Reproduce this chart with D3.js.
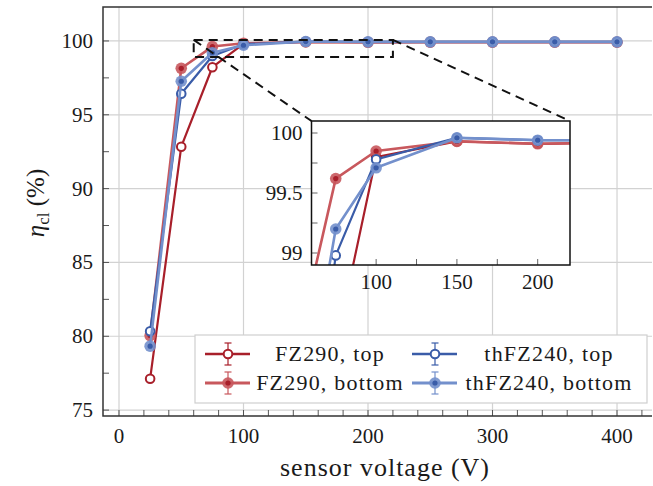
<!DOCTYPE html>
<html><head><meta charset="utf-8">
<script src="https://cdn.jsdelivr.net/npm/d3@7"></script>
<style>body{margin:0;background:#fff}svg{display:block}</style>
</head><body><svg id="c" width="653" height="486"></svg>
<script>
const voltages = [25, 50, 75, 100, 150, 200, 250, 300, 350, 400];
const fz290Top = [77.12, 92.84, 98.22, 99.80, 99.93, 99.91, 99.92, 99.92, 99.92, 99.92];
const fz290Bottom = [80.05, 98.15, 99.62, 99.85, 99.93, 99.91, 99.92, 99.92, 99.92, 99.92];
const thfz240Top = [80.34, 96.42, 98.98, 99.78, 99.96, 99.94, 99.94, 99.94, 99.94, 99.94];
const thfz240Bottom = [79.33, 97.27, 99.20, 99.71, 99.96, 99.94, 99.94, 99.94, 99.94, 99.94];
const seriesNames = ["FZ290, top", "FZ290, bottom", "thFZ240, top", "thFZ240, bottom"];
const xTicks = [0, 100, 200, 300, 400];
const yTicks = [75, 80, 85, 90, 95, 100];
const insetXTicks = [100, 150, 200];
const insetYTicks = [99, 99.5, 100];

const series = [
  {name: seriesNames[0], values: fz290Top, color: "#a81f2a", open: true, w: 2.2},
  {name: seriesNames[1], values: fz290Bottom, color: "#c8585d", dot: "#a81f2a", open: false, w: 2.6},
  {name: seriesNames[2], values: thfz240Top, color: "#3a5ca8", open: true, w: 2.2},
  {name: seriesNames[3], values: thfz240Bottom, color: "#7390cc", dot: "#3a5ca8", open: false, w: 2.6}
];

const TXT = "#1a1a1a";
const FONT = '"Liberation Serif"';
const svg = d3.select("#c");
const M = {l: 103, r: 652, t: 7, b: 416};
const x = d3.scaleLinear().domain([-12.85, 428.1]).range([M.l, M.r]);
const y = d3.scaleLinear().domain([74.6, 102.3]).range([M.b, M.t]);

function txt(sel){ return sel.attr("font-family",FONT).attr("fill",TXT); }

svg.append("clipPath").attr("id","mainclip").append("rect")
  .attr("x",M.l).attr("y",M.t).attr("width",M.r-M.l).attr("height",M.b-M.t);

// grid
const g = svg.append("g");
g.selectAll(".gx").data(xTicks).join("line")
  .attr("x1",d=>x(d)).attr("x2",d=>x(d)).attr("y1",M.t).attr("y2",M.b)
  .attr("stroke","#d2d2d2").attr("stroke-width",1.2);
g.selectAll(".gy").data(yTicks).join("line")
  .attr("y1",d=>y(d)).attr("y2",d=>y(d)).attr("x1",M.l).attr("x2",M.r)
  .attr("stroke","#d2d2d2").attr("stroke-width",1.2);

// ticks
const minorX = d3.range(0, 430, 20);
g.selectAll(".tx").data(minorX).join("line")
  .attr("x1",d=>x(d)).attr("x2",d=>x(d)).attr("y1",M.b).attr("y2",M.b-6)
  .attr("stroke","#444").attr("stroke-width",0.9);
const minorY = d3.range(75, 102.3, 2.5);
g.selectAll(".ty").data(minorY).join("line")
  .attr("y1",d=>y(d)).attr("y2",d=>y(d)).attr("x1",M.l).attr("x2",M.l+6)
  .attr("stroke","#444").attr("stroke-width",0.9);

// frame
svg.append("path").attr("d",`M${M.r},${M.t}H${M.l}V${M.b}H${M.r}`)
  .attr("fill","none").attr("stroke","#333").attr("stroke-width",1.5);

// tick labels
txt(svg.selectAll(".xl").data(xTicks).join("text"))
  .attr("x",d=>x(d)).attr("y",M.b+27).attr("text-anchor","middle")
  .attr("font-size",21).text(d=>d);
txt(svg.selectAll(".yl").data(yTicks).join("text"))
  .attr("x",M.l-10).attr("y",d=>y(d)+7).attr("text-anchor","end")
  .attr("font-size",21).text(d=>d);

// axis labels
txt(svg.append("text")).attr("x",385).attr("y",476).attr("text-anchor","middle")
  .attr("font-size",26).attr("letter-spacing",1).text("sensor voltage (V)");
const yl = txt(svg.append("text")).attr("transform","translate(44,203) rotate(-90)")
  .attr("text-anchor","middle").attr("font-size",25);
yl.append("tspan").attr("font-style","italic").text("η");
yl.append("tspan").attr("font-size",17).attr("dy",5).text("cl");
yl.append("tspan").attr("dy",-5).text(" (%)");

function drawSeries(parent, xs, ys, clipId, rOpen, rFill) {
  const grp = parent.append("g").attr("clip-path",`url(#${clipId})`);
  series.forEach(s => {
    const pts = voltages.map((v,i)=>[xs(v), ys(s.values[i])]);
    grp.append("path").attr("d", d3.line()(pts)).attr("fill","none")
      .attr("stroke", s.color).attr("stroke-width", s.w).attr("stroke-linejoin","round");
    pts.forEach(p => {
      if (s.open) {
        grp.append("circle").attr("cx",p[0]).attr("cy",p[1]).attr("r",rOpen)
          .attr("fill","#fff").attr("stroke",s.color).attr("stroke-width",2);
      } else {
        grp.append("circle").attr("cx",p[0]).attr("cy",p[1]).attr("r",rFill)
          .attr("fill",s.color).attr("opacity",0.9);
        grp.append("circle").attr("cx",p[0]).attr("cy",p[1]).attr("r",2.6)
          .attr("fill",s.dot);
      }
    });
  });
}
drawSeries(svg, x, y, "mainclip", 4.3, 5.8);

// zoom rectangle & connectors
const ix = d3.scaleLinear().domain([60, 220]).range([311.5, 570]);
const iy = d3.scaleLinear().domain([98.9, 100.1]).range([265, 121]);
svg.append("rect").attr("x",x(60)).attr("y",y(100.07)).attr("width",x(220)-x(60)).attr("height",y(98.92)-y(100.07))
  .attr("fill","none").attr("stroke","#111").attr("stroke-width",2).attr("stroke-dasharray","9,6");
svg.append("line").attr("x1",x(60)).attr("y1",y(100.07)).attr("x2",ix(60)).attr("y2",iy(100.1))
  .attr("stroke","#111").attr("stroke-width",2).attr("stroke-dasharray","9,6");
svg.append("line").attr("x1",x(220)).attr("y1",y(100.07)).attr("x2",ix(220)).attr("y2",iy(100.1))
  .attr("stroke","#111").attr("stroke-width",2).attr("stroke-dasharray","9,6");

// inset
svg.append("clipPath").attr("id","insclip").append("rect")
  .attr("x",ix(60)).attr("y",iy(100.1)).attr("width",ix(220)-ix(60)).attr("height",iy(98.9)-iy(100.1));
svg.append("rect").attr("x",ix(60)).attr("y",iy(100.1)).attr("width",ix(220)-ix(60)).attr("height",iy(98.9)-iy(100.1))
  .attr("fill","#fff");
const inset = svg.append("g");
const insMinorX = [100,125,150,175,200];
inset.selectAll("line.a").data(insMinorX).join("line").attr("class","a")
  .attr("x1",d=>ix(d)).attr("x2",d=>ix(d)).attr("y1",iy(98.9)).attr("y2",iy(98.9)-6)
  .attr("stroke","#555").attr("stroke-width",0.9);
const insMinorY = [99,99.25,99.5,99.75,100];
inset.selectAll("line.b").data(insMinorY).join("line").attr("class","b")
  .attr("y1",d=>iy(d)).attr("y2",d=>iy(d)).attr("x1",ix(60)).attr("x2",ix(60)+6)
  .attr("stroke","#555").attr("stroke-width",0.9);
drawSeries(inset, ix, iy, "insclip", 4.3, 5.8);
svg.append("rect").attr("x",ix(60)).attr("y",iy(100.1)).attr("width",ix(220)-ix(60)).attr("height",iy(98.9)-iy(100.1))
  .attr("fill","none").attr("stroke","#111").attr("stroke-width",1.5);
txt(svg.selectAll(".ixl").data(insetXTicks).join("text"))
  .attr("x",d=>ix(d)).attr("y",iy(98.9)+24).attr("text-anchor","middle")
  .attr("font-size",21).text(d=>d);
txt(svg.selectAll(".iyl").data(insetYTicks).join("text"))
  .attr("x",ix(60)-9).attr("y",d=>iy(d)+7).attr("text-anchor","end")
  .attr("font-size",21).text(d=>d);

// legend
const lg = svg.append("g");
lg.append("rect").attr("x",195).attr("y",335).attr("width",452).attr("height",68)
  .attr("fill","#fff").attr("stroke","#cfcfcf").attr("stroke-width",1.2);
const legPos = [[205,354,330],[205,383,330],[412,354,549],[412,383,549]];
series.forEach((s,i)=>{
  const [lx, ly, tx] = legPos[i];
  const cx = lx+23;
  lg.append("line").attr("x1",lx).attr("x2",lx+45).attr("y1",ly).attr("y2",ly)
    .attr("stroke",s.color).attr("stroke-width",s.w+0.4);
  lg.append("line").attr("x1",cx).attr("x2",cx).attr("y1",ly-11).attr("y2",ly+11)
    .attr("stroke",s.color).attr("stroke-width",1.2);
  [ly-11, ly+11].forEach(cy=>lg.append("line").attr("x1",cx-3.5).attr("x2",cx+3.5).attr("y1",cy).attr("y2",cy)
    .attr("stroke",s.color).attr("stroke-width",1.2));
  if (s.open) {
    lg.append("circle").attr("cx",cx).attr("cy",ly).attr("r",4.3).attr("fill","#fff")
      .attr("stroke",s.color).attr("stroke-width",2);
  } else {
    lg.append("circle").attr("cx",cx).attr("cy",ly).attr("r",5.8).attr("fill",s.color).attr("opacity",0.9);
    lg.append("circle").attr("cx",cx).attr("cy",ly).attr("r",2.6).attr("fill",s.dot);
  }
  txt(lg.append("text")).attr("x",tx).attr("y",ly+7).attr("text-anchor","middle")
    .attr("font-size",22).attr("letter-spacing",1.2).text(s.name);
});
</script></body></html>
